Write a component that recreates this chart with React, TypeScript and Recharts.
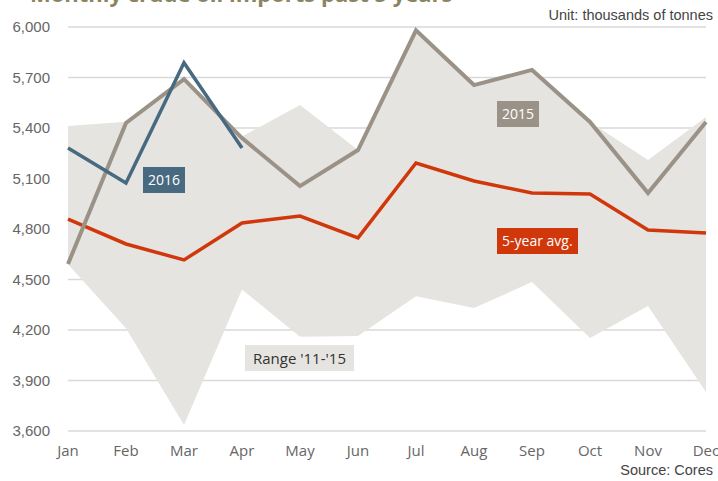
import { ComposedChart, Area, Line, XAxis, YAxis, CartesianGrid } from "recharts";

// Monthly crude oil imports, thousands of tonnes
const months = ["Jan", "Feb", "Mar", "Apr", "May", "Jun", "Jul", "Aug", "Sep", "Oct", "Nov", "Dec"];
const rangeLow = [4590, 4210, 3636, 4440, 4160, 4165, 4400, 4330, 4485, 4152, 4343, 3832];
const rangeHigh = [5412, 5437, 5690, 5350, 5537, 5270, 5980, 5655, 5745, 5436, 5210, 5465];
const avg5y = [4859, 4711, 4616, 4836, 4877, 4747, 5192, 5085, 5014, 5008, 4794, 4776];
const y2015 = [4592, 5430, 5690, 5340, 5055, 5269, 5980, 5655, 5745, 5436, 5014, 5436];
const y2016 = [5281, 5073, 5788, 5281, null, null, null, null, null, null, null, null];
const yTicks = [3600, 3900, 4200, 4500, 4800, 5100, 5400, 5700, 6000];

const data = months.map((m, i) => ({
  month: m,
  range: [rangeLow[i], rangeHigh[i]],
  avg: avg5y[i],
  y2015: y2015[i],
  y2016: y2016[i],
}));

const tagStyle = (bg: string, color: string) => ({
  position: "absolute" as const,
  background: bg,
  color,
  fontFamily: "'Open Sans', sans-serif",
  fontSize: 14,
  lineHeight: "26px",
  padding: "0 5px",
});

export default function App() {
  return (
    <div style={{ position: "absolute", left: 0, top: 0, width: 718, height: 481, overflow: "hidden", background: "#fff" }}>
      <div style={{ position: "absolute", left: 30, top: -22, fontFamily: "'Open Sans', sans-serif", fontWeight: 700, fontSize: 22, color: "#8a8560", whiteSpace: "nowrap" }}>
        Monthly crude oil imports past 5 years
      </div>
      <ComposedChart width={718} height={481} data={data} margin={{ top: 27, right: 12, bottom: 20, left: 8 }}>
        <CartesianGrid vertical={false} stroke="#d9d9d9" strokeWidth={1.5} />
        <XAxis
          dataKey="month"
          scale="point"
          padding={{ left: 0, right: 0 }}
          axisLine={false}
          tickLine={false}
          height={30}
          tickMargin={8}
          tick={{ fill: "#666", fontSize: 15, fontFamily: "'Open Sans', sans-serif" }}
        />
        <YAxis
          domain={[3600, 6000]}
          ticks={yTicks}
          width={60}
          axisLine={false}
          tickLine={false}
          tickMargin={12}
          tickFormatter={(v: number) => v.toLocaleString("en-US")}
          tick={{ fill: "#666", fontSize: 15, fontFamily: "Arial, 'Liberation Sans', sans-serif" }}
        />
        <Area dataKey="range" stroke="none" fill="#e6e4e0" fillOpacity={1} isAnimationActive={false} />
        <Line dataKey="avg" stroke="#d0380c" strokeWidth={3.5} dot={false} isAnimationActive={false} />
        <Line dataKey="y2015" stroke="#9b9287" strokeWidth={4} dot={false} isAnimationActive={false} />
        <Line dataKey="y2016" stroke="#476a80" strokeWidth={3.5} dot={false} connectNulls={false} isAnimationActive={false} />
      </ComposedChart>
      <div style={{ position: "absolute", right: 5, top: 7, fontFamily: "Arial, 'Liberation Sans', sans-serif", fontSize: 14.5, color: "#444" }}>
        Unit: thousands of tonnes
      </div>
      <div style={{ position: "absolute", right: 5, top: 462, fontFamily: "Arial, 'Liberation Sans', sans-serif", fontSize: 14.5, color: "#444" }}>
        Source: Cores
      </div>
      <div style={{ ...tagStyle("#476a80", "#fff"), left: 143, top: 167 }}>2016</div>
      <div style={{ ...tagStyle("#9b9287", "#fff"), left: 497, top: 101 }}>2015</div>
      <div style={{ ...tagStyle("#d0380c", "#fff"), left: 497, top: 228 }}>5-year avg.</div>
      <div style={{ ...tagStyle("#e6e4e0", "#333"), left: 245, top: 345, fontSize: 15, padding: "0 8px" }}>Range '11-'15</div>
    </div>
  );
}
